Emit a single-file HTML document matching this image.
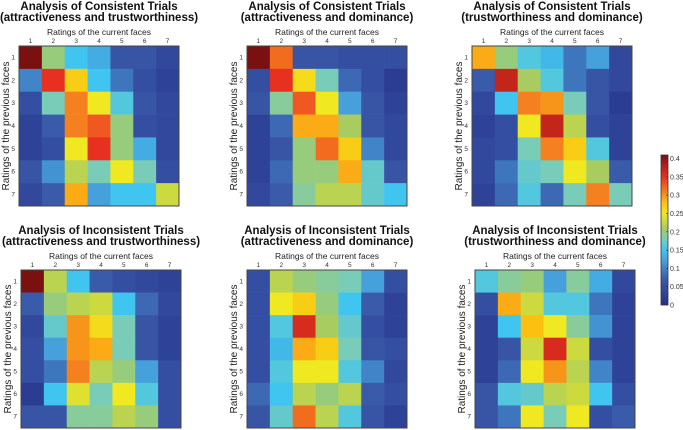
<!DOCTYPE html>
<html><head><meta charset="utf-8"><style>
body{margin:0;background:#fff}
svg{display:block;font-family:"Liberation Sans",sans-serif}
</style></head><body>
<svg id="fig" width="683" height="430"></svg>
<script>
const ticks=["1","2","3","4","5","6","7"];
const cbTicks=[0,0.05,0.1,0.15,0.2,0.25,0.3,0.35,0.4];
const titlesA=["Analysis of Consistent Trials","Analysis of Consistent Trials","Analysis of Consistent Trials","Analysis of Inconsistent Trials","Analysis of Inconsistent Trials","Analysis of Inconsistent Trials"];
const titlesB=["(attractiveness and trustworthiness)","(attractiveness and dominance)","(trustworthiness and dominance)","(attractiveness and trustworthiness)","(attractiveness and dominance)","(trustworthiness and dominance)"];
const m1=[[.41,.20,.15,.13,.06,.06,.04],[.10,.35,.27,.15,.09,.05,.03],[.05,.18,.31,.25,.16,.06,.04],[.03,.07,.31,.33,.20,.05,.04],[.03,.05,.25,.35,.20,.13,.04],[.06,.11,.22,.18,.25,.18,.05],[.04,.07,.29,.12,.15,.15,.23]];
const m2=[[.41,.32,.06,.06,.05,.05,.05],[.05,.35,.26,.18,.08,.05,.02],[.06,.19,.33,.25,.12,.06,.03],[.03,.08,.29,.29,.21,.06,.04],[.03,.06,.20,.32,.27,.10,.04],[.03,.08,.20,.20,.29,.17,.06],[.04,.07,.19,.22,.22,.17,.15]];
const m3=[[.29,.20,.16,.14,.09,.12,.04],[.07,.37,.21,.16,.09,.06,.04],[.04,.15,.31,.30,.18,.06,.02],[.03,.05,.25,.37,.22,.05,.03],[.04,.05,.18,.31,.27,.16,.03],[.04,.09,.17,.18,.25,.21,.07],[.03,.08,.16,.08,.18,.31,.18]];
const m4=[[.41,.22,.15,.07,.05,.04,.03],[.07,.20,.22,.23,.15,.08,.04],[.04,.17,.30,.26,.18,.06,.03],[.05,.12,.30,.29,.18,.06,.03],[.05,.09,.31,.22,.20,.12,.05],[.02,.15,.24,.18,.25,.16,.05],[.06,.06,.19,.19,.22,.20,.05]];
const m5=[[.05,.22,.20,.19,.18,.12,.05],[.05,.25,.27,.20,.15,.07,.03],[.05,.16,.36,.21,.17,.05,.03],[.05,.14,.29,.27,.18,.06,.05],[.05,.16,.25,.25,.16,.10,.04],[.08,.15,.22,.20,.22,.07,.05],[.06,.17,.32,.22,.16,.06,.03]];
const m6=[[.16,.19,.20,.12,.19,.13,.04],[.05,.29,.23,.16,.16,.09,.03],[.03,.15,.28,.25,.19,.11,.03],[.03,.06,.23,.36,.23,.05,.03],[.03,.08,.25,.30,.22,.10,.03],[.06,.16,.17,.22,.23,.15,.05],[.06,.09,.25,.18,.25,.05,.07]];
const matrices=[m1,m2,m3,m4,m5,m6];

const NS="http://www.w3.org/2000/svg";
const svg=document.getElementById('fig');
function mk(tag,attrs,parent){const e=document.createElementNS(NS,tag);for(const k in attrs)e.setAttribute(k,attrs[k]);(parent||svg).appendChild(e);return e;}
const stops=[[0,[37,48,138]],[0.07,[58,90,170]],[0.12,[69,160,220]],[0.15,[64,196,240]],[0.18,[120,204,184]],[0.21,[168,204,96]],[0.25,[240,232,32]],[0.28,[252,192,16]],[0.31,[245,128,32]],[0.35,[232,48,32]],[0.41,[122,16,16]]];
function color(v){if(v<=stops[0][0])return rgb(stops[0][1]);for(let i=1;i<stops.length;i++){if(v<=stops[i][0]){const a=stops[i-1],b=stops[i];const t=(v-a[0])/(b[0]-a[0]);return rgb(a[1].map((c,j)=>c+(b[1][j]-c)*t));}}return rgb(stops[stops.length-1][1]);}
function rgb(c){return `rgb(${c.map(Math.round).join(',')})`;}

const lefts=[19,247,472,21,247,475];
const tops=[46,46,46,270,270,270];
const W=160,Hs=[160,160,160,158,158,158];
matrices.forEach((m,p)=>{
  const x0=lefts[p],y0=tops[p],H=Hs[p];
  const g=mk('g',{});
  
  
  const cw=W/7,ch=H/7;
  const cx=i=>x0+i*cw, cy=j=>y0+j*ch;
  const t1=mk('text',{x:x0+W/2,y:y0-36,'font-size':11.5,'font-weight':'bold','text-anchor':'middle',fill:'#111'},g);t1.textContent=titlesA[p];
  
  const t2=mk('text',{x:x0+W/2,y:y0-25,'font-size':11.5,'font-weight':'bold','text-anchor':'middle',fill:'#111'},g);t2.textContent=titlesB[p];
  
  const xl=mk('text',{x:x0+W/2,y:y0-11,'font-size':8.5,'text-anchor':'middle',fill:'#222'},g);xl.textContent='Ratings of the current faces';
  
  const yl=mk('text',{x:0,y:0,'font-size':10,'text-anchor':'middle',fill:'#222',transform:`translate(${x0-10},${y0+H/2}) rotate(-90)`},g);yl.textContent='Ratings of the previous faces';
  
  ticks.forEach((t,i)=>{
    const a=mk('text',{x:cx(i)+cw/2,y:y0-3,'font-size':6.5,'text-anchor':'middle',fill:'#333'},g);a.textContent=t;
    
    const b=mk('text',{x:x0-4,y:cy(i)+ch/2+2,'font-size':6.5,'text-anchor':'end',fill:'#333'},g);b.textContent=t;
    
  });
  m.forEach((row,j)=>row.forEach((v,i)=>{
    const r=mk('rect',{x:cx(i),y:cy(j),width:cw+0.3,height:ch+0.3,fill:color(v)},g);
    
    
  }));
  const bd=mk('rect',{x:x0,y:y0,width:W,height:H,fill:'none',stroke:'#444','stroke-width':1},g);
  
});
const cbX=661,cbW=7,cbBot=305,cbTop=155,cbMax=0.41;
const cy=v=>cbBot-(v/cbMax)*(cbBot-cbTop);
const cb=mk('g',{});


const defs=mk('defs',{},cb);
const lg=mk('linearGradient',{id:'cbg',x1:0,y1:1,x2:0,y2:0},defs);
stops.forEach(s=>mk('stop',{offset:s[0]/cbMax,'stop-color':rgb(s[1])},lg));
mk('rect',{x:cbX,y:cbTop,width:cbW,height:cbBot-cbTop,fill:'url(#cbg)',stroke:'#333','stroke-width':0.8},cb);
cbTicks.forEach(v=>{
  mk('line',{x1:cbX+cbW-2,x2:cbX+cbW,y1:cy(v),y2:cy(v),stroke:'#333','stroke-width':0.6},cb);
  const t=mk('text',{x:cbX+cbW+2,y:cy(v)+2.5,'font-size':7,fill:'#333'},cb);t.textContent=String(v);
  
  
});
</script>
</body></html>
